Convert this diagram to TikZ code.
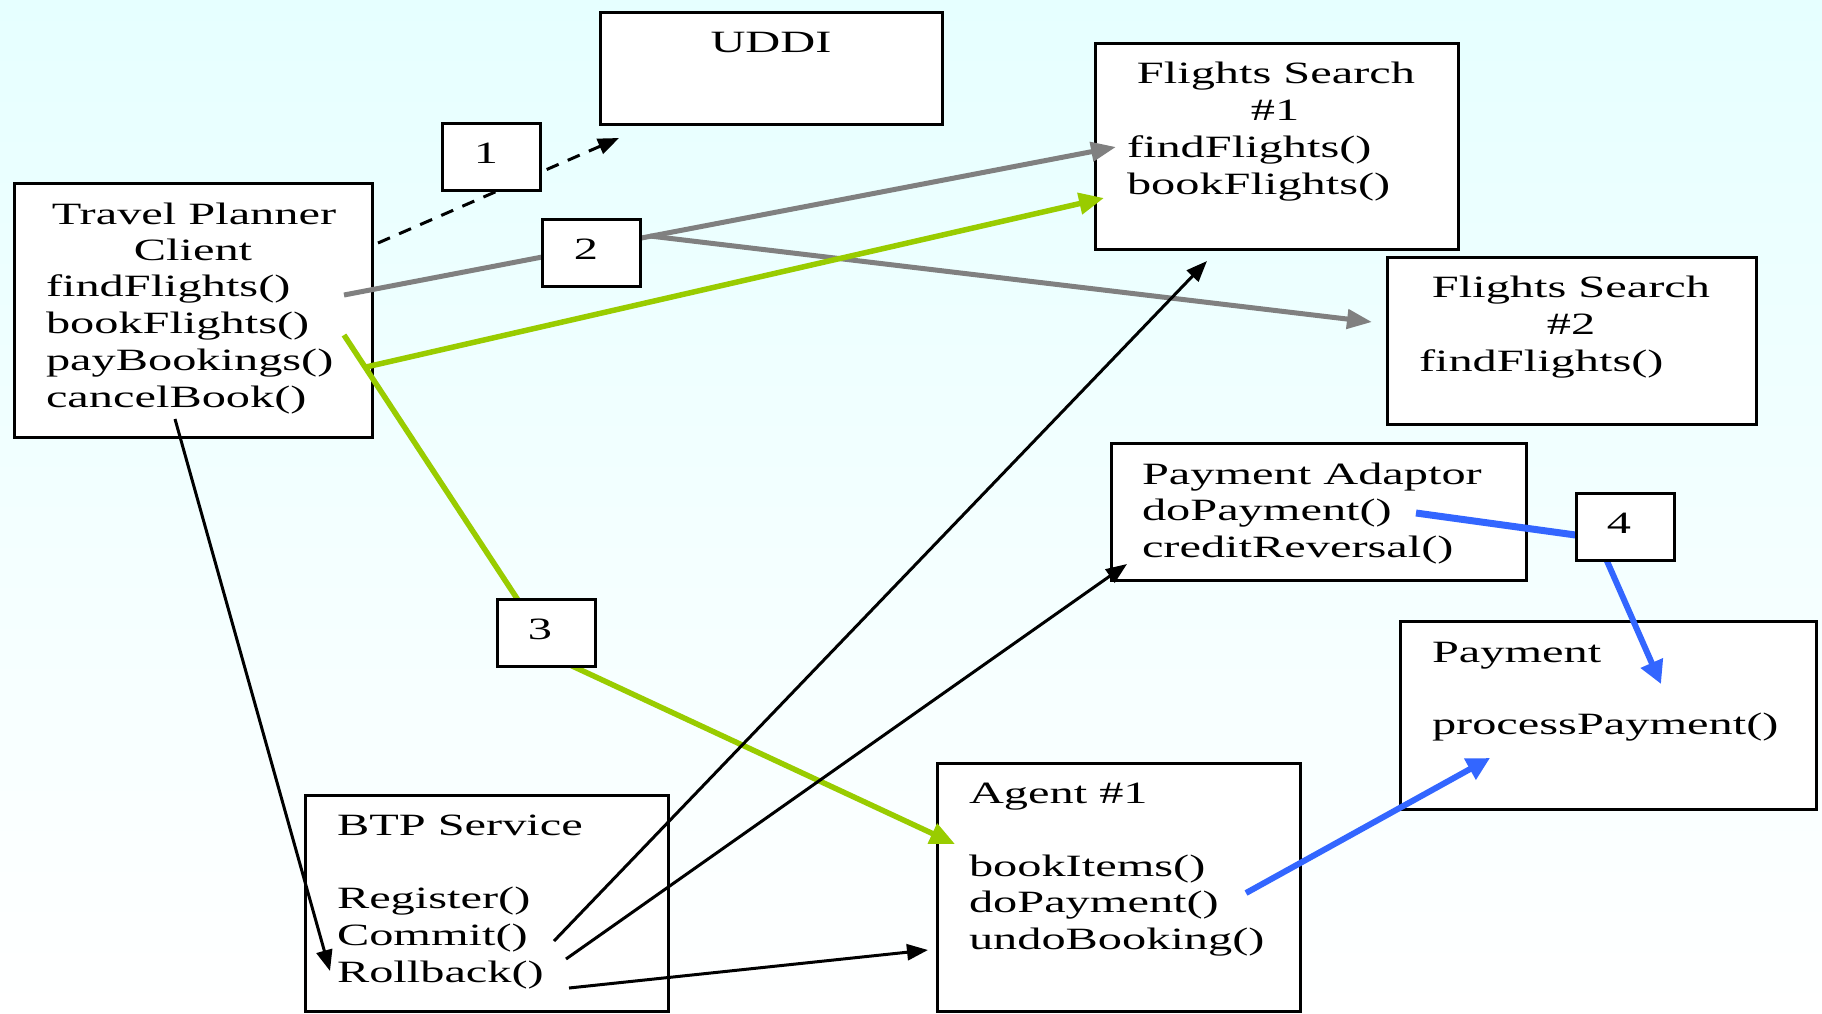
\documentclass[tikz,border=0pt]{standalone}
\usepackage{fontspec}
\setmainfont[FakeStretch=1.56]{Liberation Serif}
\usetikzlibrary{arrows.meta}
\definecolor{bgtop}{RGB}{230,255,255}
\definecolor{lgreen}{RGB}{153,204,0}
\definecolor{lblue}{RGB}{51,102,255}
\definecolor{lgray}{RGB}{128,128,128}
\begin{document}
\begin{tikzpicture}[x=1pt,y=-1pt,
  box/.style={draw=black, line width=3pt, fill=white, inner sep=0pt, outer sep=0pt, anchor=north west},
  numbox/.style={box, minimum width=98pt, minimum height=67pt},
  txt/.style={inner sep=0pt, outer sep=0pt, font=\fontsize{31}{36.7}\selectfont},
  lt/.style={txt, anchor=base west},
  ct/.style={txt, anchor=base},
  blk/.style={draw=black, line width=3pt, -{Triangle[length=21pt,width=16pt]}},
  dashblk/.style={blk, dash pattern=on 13pt off 10pt},
  grayline/.style={draw=lgray, line width=5pt, -{Triangle[length=25pt,width=19pt]}},
  greenline/.style={draw=lgreen, line width=5.5pt, -{Triangle[length=25pt,width=21pt]}},
  blueline/.style={draw=lblue, line width=6pt, -{Triangle[length=23pt,width=23pt]}},
  plainblue/.style={draw=lblue, line width=7pt}
]
\useasboundingbox (0,0) rectangle (1822,1013);
\shade[top color=bgtop, bottom color=white] (0,0) rectangle (1822,1013);

% main boxes
\node[box, minimum width=358pt, minimum height=254pt] (tp) at (14,183) {};
\node[box, minimum width=342pt, minimum height=112pt] (uddi) at (600,12) {};
\node[box, minimum width=363pt, minimum height=206pt] (fs1) at (1095,43) {};
\node[box, minimum width=369pt, minimum height=167pt] (fs2) at (1387,257) {};
\node[box, minimum width=415pt, minimum height=137pt] (pa) at (1111,443) {};
\node[box, minimum width=416pt, minimum height=188pt] (pay) at (1400,621) {};
\node[box, minimum width=363pt, minimum height=248pt] (agent) at (937,763) {};
\node[box, minimum width=363pt, minimum height=216pt] (btp) at (305,795) {};

% texts
\node[ct] (tp1) at (194,224) {Travel Planner};
\node[ct] (tp2) at (193,260) {Client};
\node[lt] (tp3) at (46,296) {findFlights()};
\node[lt] (tp4) at (46,333) {bookFlights()};
\node[lt] (tp5) at (46,370) {payBookings()};
\node[lt] (tp6) at (46,407) {cancelBook()};

\node[ct] (uddi1) at (771,52) {UDDI};

\node[ct] (fs1a) at (1276,83) {Flights Search};
\node[ct] (fs1b) at (1275,120) {\#1};
\node[lt] (fs1c) at (1127,157) {findFlights()};
\node[lt] (fs1d) at (1127,194) {bookFlights()};

\node[ct] (fs2a) at (1571,297) {Flights Search};
\node[ct] (fs2b) at (1571,334) {\#2};
\node[lt] (fs2c) at (1419,371) {findFlights()};

\node[lt] (pa1) at (1142,484) {Payment Adaptor};
\node[lt] (pa2) at (1142,520) {doPayment()};
\node[lt] (pa3) at (1142,557) {creditReversal()};

\node[lt] (pay1) at (1432,662) {Payment};
\node[lt] (pay2) at (1432,734) {processPayment()};

\node[lt] (ag1) at (969,803) {Agent \#1};
\node[lt] (ag2) at (969,876) {bookItems()};
\node[lt] (ag3) at (969,912) {doPayment()};
\node[lt] (ag4) at (969,949) {undoBooking()};

\node[lt] (btp1) at (337,835) {BTP Service};
\node[lt] (btp2) at (337,908) {Register()};
\node[lt] (btp3) at (337,945) {Commit()};
\node[lt] (btp4) at (337,982) {Rollback()};

% connector end points
\coordinate (tpDash) at (378,243);
\coordinate (uddiIn) at (619,138);
\coordinate (tpFind) at (344,295);
\coordinate (fs1Find) at (1116,147);
\coordinate (gj) at (650,236);
\coordinate (fs2In) at (1372,322);
\coordinate (tpPay) at (366,367);
\coordinate (fs1Book) at (1104,198);
\coordinate (tpBook) at (344,335);
\coordinate (n3a) at (539,632);
\coordinate (n3b) at (540,651);
\coordinate (agentIn) at (955,844);
\coordinate (tpCancel) at (175,419);
\coordinate (btpRoll) at (330,971);
\coordinate (btpC1) at (554,941);
\coordinate (fs1Below) at (1207,261);
\coordinate (btpC2) at (566,959);
\coordinate (paIn) at (1127,564);
\coordinate (btpR) at (569,988);
\coordinate (agentLeft) at (928,950);
\coordinate (paPay) at (1416,513);
\coordinate (n4w) at (1590,537);
\coordinate (n4s) at (1603,552);
\coordinate (payIn) at (1661,684);
\coordinate (agPay) at (1246,893);
\coordinate (payIn2) at (1490,758);

% connectors
\draw[dashblk] (tpDash) -- (uddiIn);
\draw[grayline] (tpFind) -- (fs1Find);
\draw[grayline] (gj) -- (fs2In);
\draw[greenline] (tpPay) -- (fs1Book);
\draw[greenline] (tpBook) -- (n3a) -- (n3b) -- (agentIn);
\draw[blk] (tpCancel) -- (btpRoll);
\draw[blk] (btpC1) -- (fs1Below);
\draw[blk] (btpC2) -- (paIn);
\draw[blk] (btpR) -- (agentLeft);
\draw[plainblue] (paPay) -- (n4w);
\draw[blueline] (n4s) -- (payIn);
\draw[blueline] (agPay) -- (payIn2);

% number boxes
\node[numbox] (n1) at (442,123) {};
\node[numbox] (n2) at (542,219) {};
\node[numbox] (n3) at (497,599) {};
\node[numbox] (n4) at (1576,493) {};
\node[ct] (n1t) at (486,163) {1};
\node[ct] (n2t) at (586,259) {2};
\node[ct] (n3t) at (540,639) {3};
\node[ct] (n4t) at (1619,533) {4};
\end{tikzpicture}
\end{document}
